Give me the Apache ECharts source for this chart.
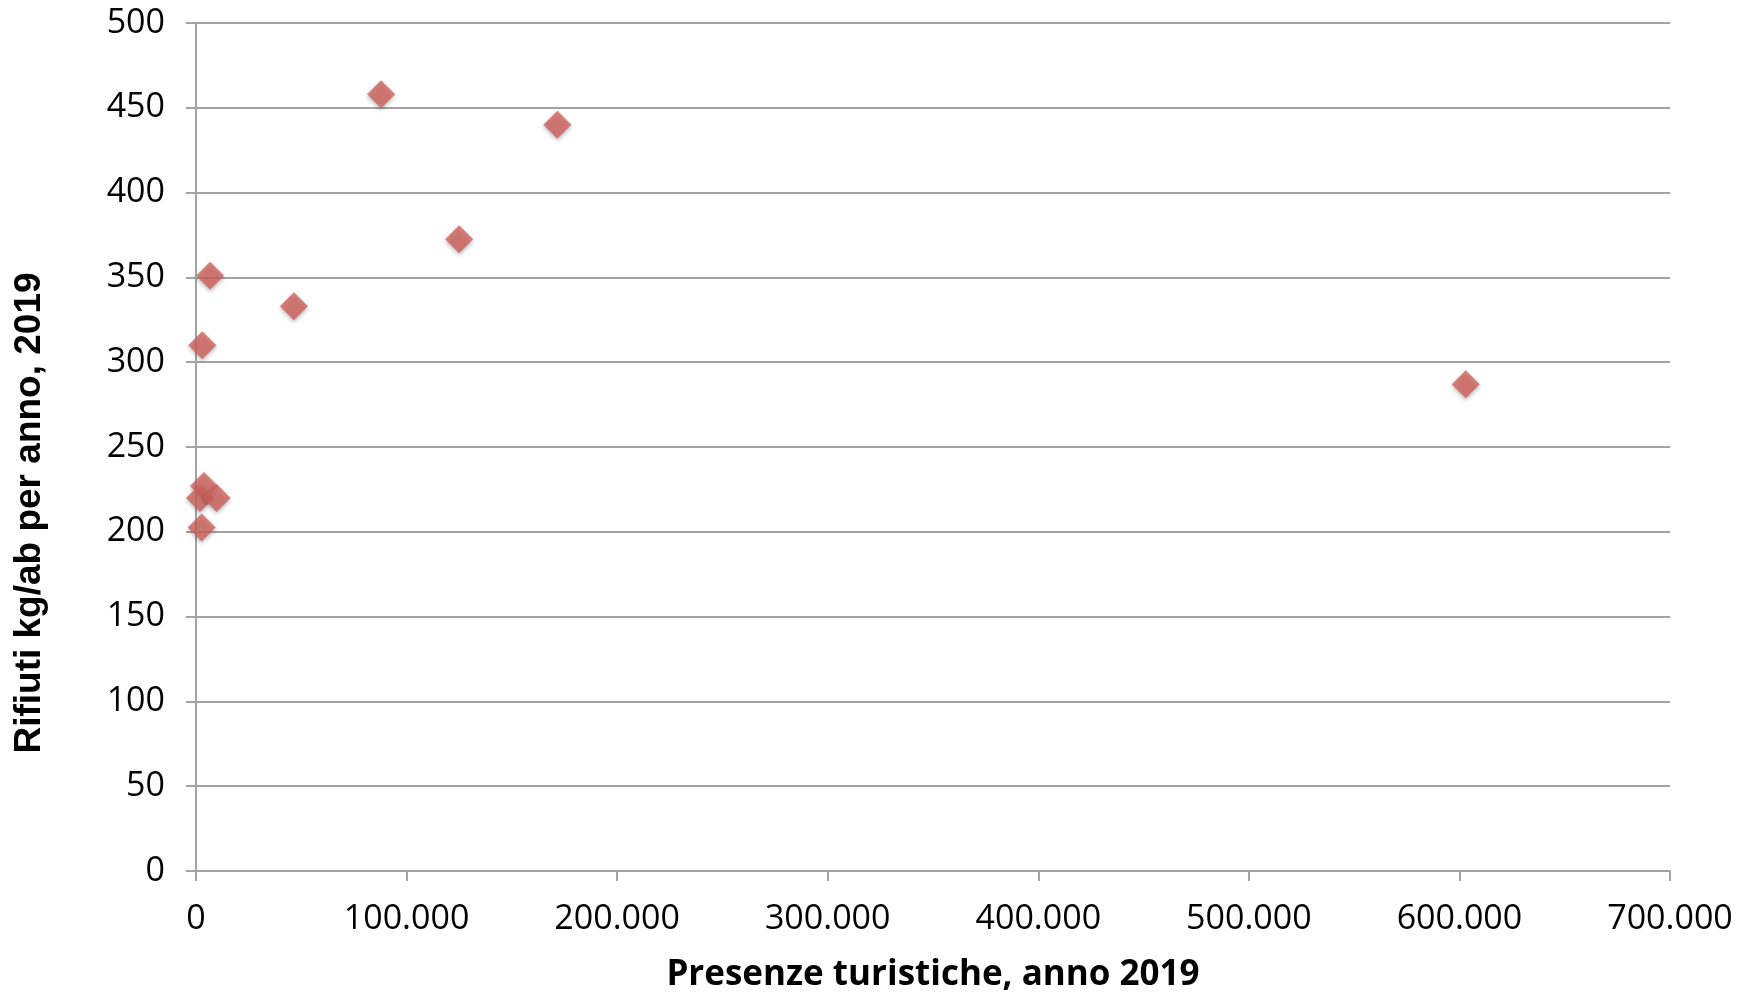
<!DOCTYPE html>
<html>
<head>
<meta charset="utf-8">
<title>Rifiuti e presenze turistiche 2019</title>
<script src="https://cdn.jsdelivr.net/npm/echarts@6/dist/echarts.min.js"></script>
<style>
  html, body { margin: 0; padding: 0; background: #ffffff; }
  #chart { width: 1738px; height: 998px; }
</style>
</head>
<body>
<div id="chart"></div>
<script>
// Presenze turistiche (x) e rifiuti pro capite (y) per comune, anno 2019
const presenze = [87900, 171600, 125000, 603000, 46500, 3000, 6700, 3800, 1900, 9800, 2700];
const rifiuti  = [458,   440,    372.5,  287,    333,   310,  351,  227,  220,  220,  202.5];

const xTicks = { min: 0, max: 700000, interval: 100000 };
const yTicks = { min: 0, max: 500, interval: 50 };

const xTitle = 'Presenze turistiche, anno 2019';
const yTitle = 'Rifiuti kg/ab per anno, 2019';

const points = presenze.map((p, i) => [p, rifiuti[i]]);

function thousands(v) {
  return String(Math.round(v)).replace(/\B(?=(\d{3})+(?!\d))/g, '.');
}

const gridColor = '#a3a3a3';
const labelFont = { color: '#000000', fontFamily: 'Open Sans', fontSize: 34 };

const chart = echarts.init(document.getElementById('chart'), null, { renderer: 'canvas' });

chart.setOption({
  animation: false,
  backgroundColor: '#ffffff',
  grid: { left: 196, right: 68, top: 23, bottom: 122, containLabel: false },
  xAxis: {
    type: 'value',
    min: xTicks.min,
    max: xTicks.max,
    interval: xTicks.interval,
    name: xTitle,
    nameLocation: 'middle',
    nameGap: 87,
    nameTextStyle: { color: '#000000', fontFamily: 'Open Sans', fontWeight: 'bold', fontSize: 35 },
    axisLine: { show: true, lineStyle: { color: gridColor, width: 2 } },
    axisTick: { show: true, length: 10, lineStyle: { color: gridColor, width: 2 } },
    axisLabel: Object.assign({ margin: 31, formatter: thousands }, labelFont),
    splitLine: { show: false }
  },
  yAxis: {
    type: 'value',
    min: yTicks.min,
    max: yTicks.max,
    interval: yTicks.interval,
    axisLine: { show: true, lineStyle: { color: gridColor, width: 2 } },
    axisTick: { show: true, length: 10, lineStyle: { color: gridColor, width: 2 } },
    axisLabel: Object.assign({ margin: 31 }, labelFont),
    splitLine: { show: true, lineStyle: { color: gridColor, width: 2 } }
  },
  graphic: [{
    type: 'text',
    x: 30,
    y: 513,
    rotation: Math.PI / 2,
    style: {
      text: yTitle,
      fill: '#000000',
      font: 'bold 37px "Liberation Sans", Arial, sans-serif',
      align: 'center',
      verticalAlign: 'middle'
    }
  }],
  series: [{
    type: 'scatter',
    data: points,
    symbol: 'diamond',
    symbolSize: 28,
    itemStyle: {
      color: '#cf625d',
      shadowColor: 'rgba(0,0,0,0.35)',
      shadowBlur: 4,
      shadowOffsetY: 2
    }
  }]
});
</script>
</body>
</html>
